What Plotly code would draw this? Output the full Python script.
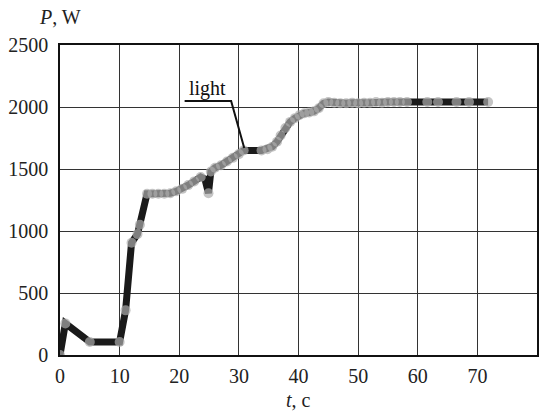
import plotly.graph_objects as go

# time, s
t_vals = [0, 0.9, 5.0, 10.0, 11.0, 12.0, 13.0, 13.4, 14.6, 15.5, 16.5, 17.5, 18.5,
          19.5, 20.5, 21.5, 22.5, 23.6, 24.3, 24.9, 25.3, 26.0, 27.0, 28.0, 29.0,
          30.0, 30.8, 33.8, 34.8, 35.6, 36.4, 37.0, 37.8, 38.6, 39.4, 40.2, 41.0,
          41.8, 42.6, 43.4, 44.2, 45.0, 46.0, 47.0, 48.0, 49.0, 50.0, 51.0, 52.0,
          53.0, 54.0, 55.0, 56.0, 57.0, 58.2, 61.6, 63.4, 66.5, 68.6, 71.8]
# power, W
p_vals = [0, 255, 105, 105, 360, 905, 975, 1050, 1300, 1300, 1300, 1300, 1305,
          1320, 1340, 1370, 1400, 1435, 1420, 1305, 1480, 1510, 1530, 1560, 1590,
          1620, 1650, 1650, 1660, 1680, 1720, 1770, 1830, 1880, 1910, 1935, 1950,
          1955, 1965, 1990, 2030, 2040, 2035, 2030, 2030, 2035, 2030, 2035, 2035,
          2040, 2035, 2040, 2040, 2040, 2040, 2040, 2040, 2040, 2040, 2040]
# gray dot drawn at each reading (0 = reading shown only by the black line)
dot_size = [10, 10, 10, 10, 10, 10, 10, 10, 10, 10, 10, 10, 10,
            10, 10, 10, 10, 10, 0, 10, 10, 10, 10, 10, 10,
            10, 10, 10, 10, 10, 10, 10, 10, 10, 10, 10, 10,
            10, 10, 10, 10, 10, 10, 10, 10, 10, 10, 10, 10,
            10, 10, 10, 10, 10, 10, 10, 10, 10, 10, 10]

x_ticks = [0, 10, 20, 30, 40, 50, 60, 70, 80]
y_ticks = [0, 500, 1000, 1500, 2000, 2500]

label_text = "light"
leader_x = [20.9, 28.7, 30.9]
leader_y = [2048, 2048, 1669]

FONT = "Liberation Serif"

fig = go.Figure()
fig.add_trace(go.Scatter(
    x=t_vals, y=p_vals, mode="lines+markers",
    line=dict(color="#1a1a1a", width=7),
    marker=dict(color="#ababab", size=dot_size, line=dict(width=0)),
    showlegend=False, hoverinfo="skip",
))
fig.add_trace(go.Scatter(
    x=leader_x, y=leader_y, mode="lines",
    line=dict(color="#111111", width=2),
    showlegend=False, hoverinfo="skip",
))

axis_common = dict(
    showgrid=True, gridcolor="#333333", gridwidth=1.2,
    showline=True, linecolor="#111111", linewidth=1.5, mirror=True,
    ticks="", zeroline=False,
    tickfont=dict(family=FONT, size=20, color="#222222"),
)
fig.update_xaxes(range=[0, 80], tickvals=x_ticks, ticktext=[str(v) for v in x_ticks],
                 ticklabelstandoff=2, **axis_common)
fig.update_yaxes(range=[0, 2500], tickvals=y_ticks, ticktext=[str(v) for v in y_ticks],
                 ticklabelstandoff=6, **axis_common)

fig.add_annotation(x=(leader_x[0] + leader_x[1]) / 2, y=2150, xref="x", yref="y",
                   text=label_text, showarrow=False,
                   font=dict(family=FONT, size=20, color="#111111"),
                   xanchor="center", yanchor="middle")
fig.add_annotation(x=0.0, y=1.09, xref="paper", yref="paper",
                   text="<i>P</i>, W", showarrow=False,
                   font=dict(family=FONT, size=20, color="#222222"),
                   xanchor="center", yanchor="middle")
fig.add_annotation(x=0.5, y=-0.145, xref="paper", yref="paper",
                   text="<i>t</i>, c", showarrow=False,
                   font=dict(family=FONT, size=20, color="#222222"),
                   xanchor="center", yanchor="middle")

fig.update_layout(
    width=543, height=413,
    margin=dict(l=60, r=4, t=45, b=58),
    paper_bgcolor="white", plot_bgcolor="white",
    font=dict(family=FONT),
)

fig.write_html("out.html",
               config={"displayModeBar": False},
               post_script="document.body.style.margin='0';document.body.style.padding='0';")
